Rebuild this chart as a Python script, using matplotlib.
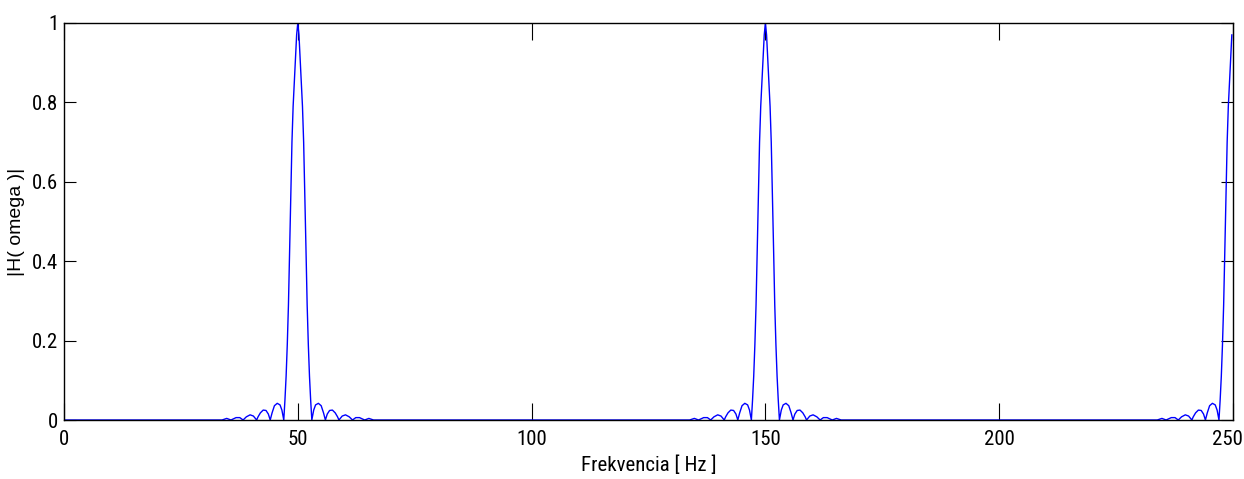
import numpy as np
import matplotlib
matplotlib.use("Agg")
import matplotlib.pyplot as plt
from matplotlib import font_manager
from matplotlib.transforms import offset_copy

# ---- data ----
# one lobe of |H(omega)| around a peak (offset from the peak in Hz -> magnitude)
lobe_offset_hz = [-16.2, -15.2, -14.3, -13.2, -12.4, -11.7, -11.0, -10.2, -9.5, -8.8,
                  -8.5, -8.0, -7.4, -6.8, -6.3, -5.9, -5.5, -5.0, -4.4, -3.8, -3.4,
                  -3.0, -2.75, -2.5, -2.25, -2.0, -1.75, -1.5, -1.25, -1.0, -0.75,
                  -0.5, -0.25, 0.0,
                  0.25, 0.5, 0.75, 1.0, 1.25, 1.5, 1.75, 2.0, 2.25, 2.5, 2.75, 3.0,
                  3.4, 3.8, 4.4, 5.0, 5.5, 5.9, 6.3, 6.8, 7.4, 8.0, 8.5, 8.8,
                  9.5, 10.2, 11.0, 11.7, 12.4, 13.2, 14.3, 15.2, 16.2]
lobe_mag = [0.0, 0.004, 0.0, 0.006, 0.006, 0.0, 0.008, 0.013, 0.010, 0.0,
            0.008, 0.018, 0.025, 0.024, 0.015, 0.0, 0.018, 0.036, 0.042, 0.038, 0.025,
            0.0, 0.05, 0.11, 0.19, 0.29, 0.43, 0.57, 0.70, 0.79, 0.85,
            0.91, 0.97, 1.0,
            0.97, 0.91, 0.85, 0.79, 0.70, 0.57, 0.43, 0.29, 0.19, 0.11, 0.05, 0.0,
            0.025, 0.038, 0.042, 0.036, 0.018, 0.0, 0.015, 0.024, 0.025, 0.018, 0.008, 0.0,
            0.010, 0.013, 0.008, 0.0, 0.006, 0.006, 0.0, 0.004, 0.0]
peak_centers_hz = [50, 150, 250]
f_start_hz, f_end_hz = 0.0, 249.75

x_ticks = [0, 50, 100, 150, 200, 250]
x_tick_labels = ["0", "50", "100", "150", "200", "250"]
y_ticks = [0, 0.2, 0.4, 0.6, 0.8, 1.0]
y_tick_labels = ["0", "0.2", "0.4", "0.6", "0.8", "1"]
x_label = "Frekvencia [ Hz ]"
y_label = "|H( omega )|"

# ---- build the curve from the read lobe ----
freq = [f_start_hz]
mag = [0.0]
for c in peak_centers_hz:
    for o, m in zip(lobe_offset_hz, lobe_mag):
        f = c + o
        if f_start_hz < f <= f_end_hz:
            freq.append(f)
            mag.append(m)
if freq[-1] < f_end_hz:
    freq.append(f_end_hz)
    mag.append(0.0)

# ---- fonts: prefer a regular-weight narrow/condensed sans ----
regular = {}
for fe in font_manager.fontManager.ttflist:
    w = fe.weight if isinstance(fe.weight, int) else {"normal": 400, "regular": 400}.get(str(fe.weight).lower(), 700)
    if fe.style == "normal" and w in (400,):
        regular[fe.name] = True
narrow = None
for cand in ["Liberation Sans Narrow", "DejaVu Sans Condensed", "Roboto Condensed",
             "Open Sans Condensed", "Noto Sans Condensed"]:
    if cand in regular:
        narrow = cand
        break
if narrow is None:
    narrow = "Liberation Sans"
    tick_size = 12.5
else:
    tick_size = 15
tick_font = [narrow, "DejaVu Sans"]
label_font = ["Liberation Sans", "DejaVu Sans"]

fig = plt.figure(figsize=(12.44, 4.79), dpi=100)
ax = fig.add_axes([64 / 1244, 59 / 479, (1233 - 64) / 1244, (420 - 23) / 479])

ax.plot(freq, mag, color=(0, 0, 1), lw=1.0)

ax.set_xlim(0, 250)
ax.set_ylim(0, 1)
ax.set_xticks(x_ticks)
ax.set_xticklabels(x_tick_labels, family=tick_font, fontsize=tick_size, fontweight="normal")
ax.set_yticks(y_ticks)
ax.set_yticklabels(y_tick_labels, family=tick_font, fontsize=tick_size, fontweight="normal")

ax.tick_params(axis="x", direction="in", length=12.5, width=0.8, colors="black",
               top=True, bottom=True, pad=7)
ax.tick_params(axis="y", direction="in", length=8.6, width=0.8, colors="black",
               left=True, right=True, pad=4)
for s in ax.spines.values():
    s.set_linewidth(1.0)
    s.set_color("black")

ax.set_xlabel(x_label, family=tick_font, fontsize=tick_size, fontweight="normal", labelpad=5)
ax.set_ylabel(y_label, family=label_font, fontsize=14, labelpad=5)

fig.canvas.draw()
lab = ax.get_xticklabels()[-1]
bb = lab.get_window_extent()
if bb.x1 > fig.bbox.width - 1:
    lab.set_transform(offset_copy(lab.get_transform(), fig=fig,
                                  x=-(bb.x1 - fig.bbox.width + 1), units="dots"))

fig.savefig("out.png", dpi=100)
